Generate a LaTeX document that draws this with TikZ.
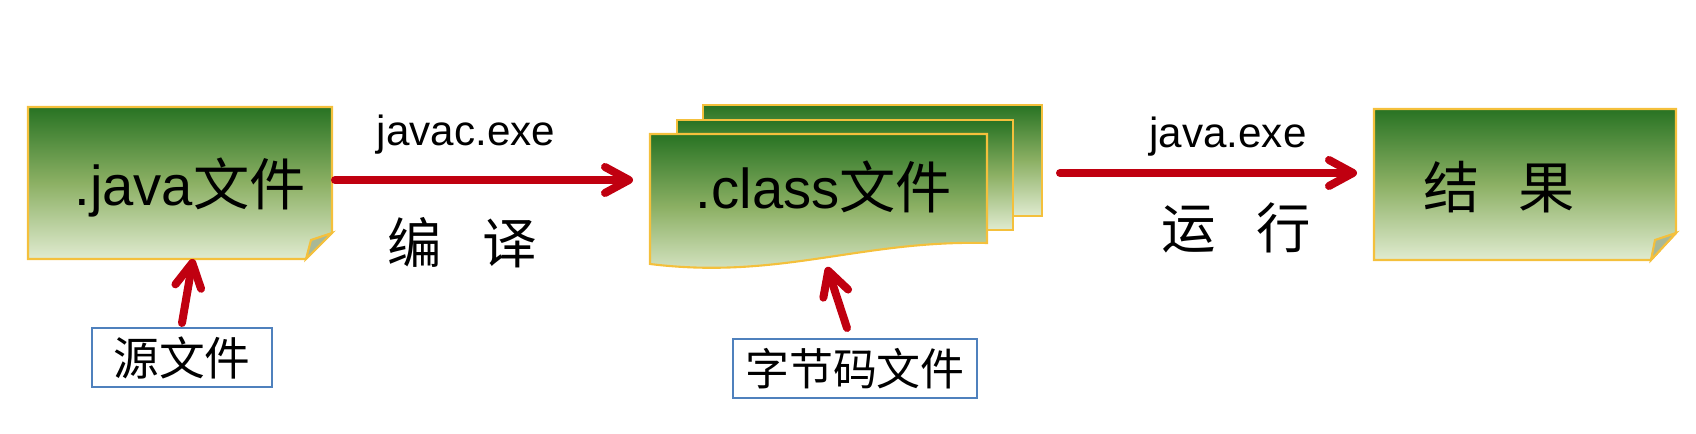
\documentclass[tikz,border=0pt]{standalone}
\usepackage{fontspec}
\setmainfont{Liberation Sans}
\newfontfamily\cjk{Noto Sans CJK SC}
\usetikzlibrary{arrows.meta}
\definecolor{darkgreen}{RGB}{40,115,35}
\definecolor{midgreen}{RGB}{140,176,100}
\definecolor{lightgreen}{RGB}{224,235,208}
\definecolor{foldgreen}{RGB}{168,184,150}
\definecolor{goldline}{RGB}{244,192,60}
\definecolor{arrowred}{RGB}{192,0,16}
\definecolor{boxblue}{RGB}{79,129,189}
\tikzset{
  note/.style={draw=goldline, line width=0.6pt, top color=darkgreen, bottom color=lightgreen, middle color=midgreen},
  fold/.style={draw=goldline, line width=0.6pt, fill=foldgreen},
  flow/.style={draw=arrowred, line width=0.08cm, line cap=round, -{Straight Barb[length=0.24cm, width=0.26cm, line cap=round, line join=round]}},
  tag/.style={draw=boxblue, line width=0.6pt, fill=white, inner sep=0pt},
  big/.style={font=\fontsize{16}{18}\selectfont},
  small/.style={font=\fontsize{12}{14}\selectfont},
  label/.style={font=\fontsize{15.5}{18}\selectfont\cjk}
}
\begin{document}
\begin{tikzpicture}
\useasboundingbox (0, 0) rectangle (16.96, -4.34);

\draw[note] (0.28, -1.07) -- (3.32, -1.07) -- (3.32, -2.33) -- (3.06, -2.59) -- (0.28, -2.59) -- cycle;
\draw[fold] (3.32, -2.33) -- (3.06, -2.59) -- (3.11, -2.40) -- cycle;
\draw (1.90, -1.88) node[big] (java) {.java{\cjk 文件}};

\draw[note] (7.03, -1.05) rectangle (10.42, -2.16);
\draw[note] (6.77, -1.20) rectangle (10.13, -2.30);
\draw[note] (6.50, -1.34) -- (9.87, -1.34) -- (9.87, -2.43) .. controls (8.60, -2.40) and (7.80, -2.80) .. (6.50, -2.64) -- cycle;
\draw (8.24, -1.87) node[big] (class) {.class{\cjk 文件}};

\draw[note] (13.74, -1.09) -- (16.76, -1.09) -- (16.76, -2.33) -- (16.51, -2.60) -- (13.74, -2.60) -- cycle;
\draw[fold] (16.76, -2.33) -- (16.51, -2.60) -- (16.55, -2.40) -- cycle;
\draw (14.99, -1.87) node[big] (res) {\cjk 结\hspace{0.7em}果};

\draw (1.82, -3.575) node[tag, minimum width=1.80cm, minimum height=0.59cm, font=\fontsize{13}{15}\selectfont\cjk] (src) {源文件};
\draw (8.55, -3.685) node[tag, minimum width=2.44cm, minimum height=0.59cm, font=\fontsize{12.5}{15}\selectfont\cjk] (byte) {字节码文件};

\draw (4.66, -1.35) node[small] (javac) {javac.exe};
\draw (4.62, -2.43) node[label] (compile) {编\hspace{0.75em}译};
\draw (12.28, -1.37) node[small] (javaexe) {java.exe};
\draw (12.36, -2.28) node[label] (run) {运\hspace{0.75em}行};

\coordinate (javaR) at (3.35, -1.80);
\coordinate (classL) at (6.33, -1.80);
\coordinate (classR) at (10.60, -1.73);
\coordinate (resL) at (13.57, -1.73);
\coordinate (javaB) at (1.93, -2.59);
\coordinate (classB) at (8.27, -2.67);
\coordinate (srcT) at (1.82, -3.23);
\coordinate (byteT) at (8.47, -3.28);

\draw[flow] (javaR) -- (classL);
\draw[flow] (classR) -- (resL);
\draw[flow] (srcT) -- (javaB);
\draw[flow] (byteT) -- (classB);
\end{tikzpicture}
\end{document}
